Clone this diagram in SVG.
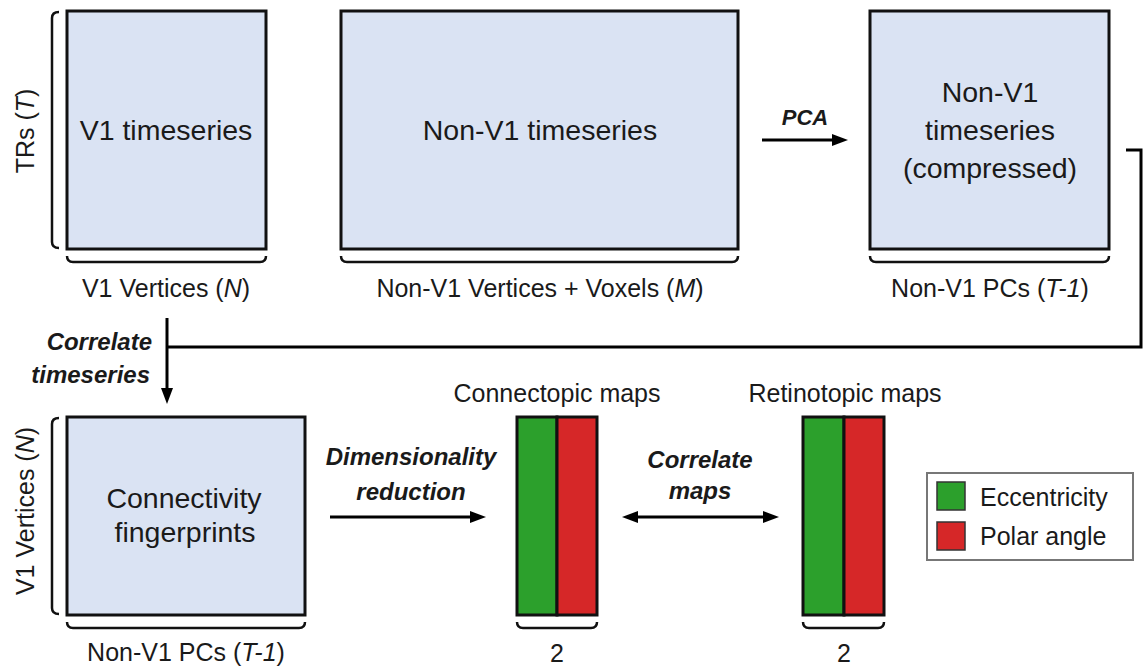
<svg xmlns="http://www.w3.org/2000/svg" width="1147" height="669" viewBox="0 0 1147 669">
<style>
.box{fill:#dae3f3;stroke:#111;stroke-width:3}
.br{fill:none;stroke:#111;stroke-width:2.5}
.t{font-family:"Liberation Sans",Arial,sans-serif;fill:#1a1a1a}
.big{font-size:28.5px}
.ax{font-size:25px}
.bi{font-size:24px;font-weight:bold;font-style:italic}
.ln{fill:none;stroke:#000;stroke-width:3}
.g{fill:#2ca02c;stroke:#111;stroke-width:3}
.r{fill:#d62728;stroke:#111;stroke-width:3}
</style>
<defs>
<marker id="ah" viewBox="0 0 16 12" refX="8" refY="6" markerWidth="16" markerHeight="12" markerUnits="userSpaceOnUse" orient="auto-start-reverse">
<path d="M0,0 L16,6 L0,12 z" fill="#000"/>
</marker>
</defs>

<g id="v1-timeseries">
<rect class="box" x="67" y="11" width="199" height="238"/>
<text class="t big" x="166" y="140" text-anchor="middle">V1 timeseries</text>
<path class="br" d="M59,12 Q52,12 52,18 L52,242 Q52,248 59,248"/>
<text class="t ax" transform="translate(34,131) rotate(-90)" text-anchor="middle">TRs (<tspan font-style="italic">T</tspan>)</text>
<path class="br" d="M67,256 Q67,262 73,262 L260,262 Q266,262 266,256"/>
<text class="t ax" x="166" y="297" text-anchor="middle">V1 Vertices (<tspan font-style="italic">N</tspan>)</text>
</g>

<g id="nonv1-timeseries">
<rect class="box" x="341" y="11" width="397" height="238"/>
<text class="t big" x="540" y="140" text-anchor="middle">Non-V1 timeseries</text>
<path class="br" d="M341,256 Q341,262 347,262 L732,262 Q738,262 738,256"/>
<text class="t ax" x="540" y="297" text-anchor="middle">Non-V1 Vertices + Voxels (<tspan font-style="italic">M</tspan>)</text>
</g>

<g id="nonv1-compressed">
<rect class="box" x="870" y="11" width="239" height="238"/>
<text class="t big" x="990" y="102" text-anchor="middle">Non-V1</text>
<text class="t big" x="990" y="140" text-anchor="middle">timeseries</text>
<text class="t big" x="990" y="178" text-anchor="middle">(compressed)</text>
<path class="br" d="M870,256 Q870,262 876,262 L1103,262 Q1109,262 1109,256"/>
<text class="t ax" x="990" y="297" text-anchor="middle">Non-V1 PCs (<tspan font-style="italic">T-1</tspan>)</text>
</g>

<g id="connectivity-fingerprints">
<rect class="box" x="67" y="417" width="238" height="198"/>
<text class="t big" x="184" y="508" text-anchor="middle">Connectivity</text>
<text class="t big" x="185" y="542" text-anchor="middle">fingerprints</text>
<path class="br" d="M59,418 Q52,418 52,424 L52,608 Q52,614 59,614"/>
<text class="t ax" transform="translate(34,511) rotate(-90)" text-anchor="middle">V1 Vertices (<tspan font-style="italic">N</tspan>)</text>
<path class="br" d="M67,622 Q67,628 73,628 L299,628 Q305,628 305,622"/>
<text class="t ax" x="186" y="661" text-anchor="middle">Non-V1 PCs (<tspan font-style="italic">T-1</tspan>)</text>
</g>

<g id="connectopic-maps">
<text class="t ax" x="557" y="402" text-anchor="middle">Connectopic maps</text>
<rect class="g" x="517" y="417" width="40" height="198"/>
<rect class="r" x="557" y="417" width="40" height="198"/>
<path class="br" d="M517,622 Q517,628 523,628 L591,628 Q597,628 597,622"/>
<text class="t ax" x="557" y="662" text-anchor="middle">2</text>
</g>

<g id="retinotopic-maps">
<text class="t ax" x="845" y="402" text-anchor="middle">Retinotopic maps</text>
<rect class="g" x="803" y="417" width="41" height="198"/>
<rect class="r" x="844" y="417" width="40" height="198"/>
<path class="br" d="M803,622 Q803,628 809,628 L878,628 Q884,628 884,622"/>
<text class="t ax" x="844" y="662" text-anchor="middle">2</text>
</g>

<g id="legend">
<rect x="927" y="473" width="206" height="87" fill="#fff" stroke="#777" stroke-width="2"/>
<rect x="937" y="482" width="28" height="28" fill="#2ca02c" stroke="#333" stroke-width="1.5"/>
<rect x="937" y="522" width="28" height="28" fill="#d62728" stroke="#333" stroke-width="1.5"/>
<text class="t ax" x="980" y="506">Eccentricity</text>
<text class="t ax" x="980" y="545">Polar angle</text>
</g>

<g id="connectors">
<line class="ln" x1="762" y1="140" x2="840" y2="140" marker-end="url(#ah)"/>
<text class="t bi" x="805" y="125" text-anchor="middle" style="font-size:22px">PCA</text>
<path class="ln" d="M1126,150 H1141 V347 H167"/>
<line class="ln" x1="167" y1="318" x2="167" y2="396" marker-end="url(#ah)"/>
<text class="t bi" x="152" y="350" text-anchor="end">Correlate</text>
<text class="t bi" x="150" y="383" text-anchor="end">timeseries</text>
<line class="ln" x1="330" y1="517" x2="478" y2="517" marker-end="url(#ah)"/>
<text class="t bi" x="411" y="465" text-anchor="middle">Dimensionality</text>
<text class="t bi" x="411" y="500" text-anchor="middle">reduction</text>
<line class="ln" x1="630" y1="517" x2="771" y2="517" marker-start="url(#ah)" marker-end="url(#ah)"/>
<text class="t bi" x="700" y="468" text-anchor="middle">Correlate</text>
<text class="t bi" x="700" y="499" text-anchor="middle">maps</text>
</g>
</svg>
